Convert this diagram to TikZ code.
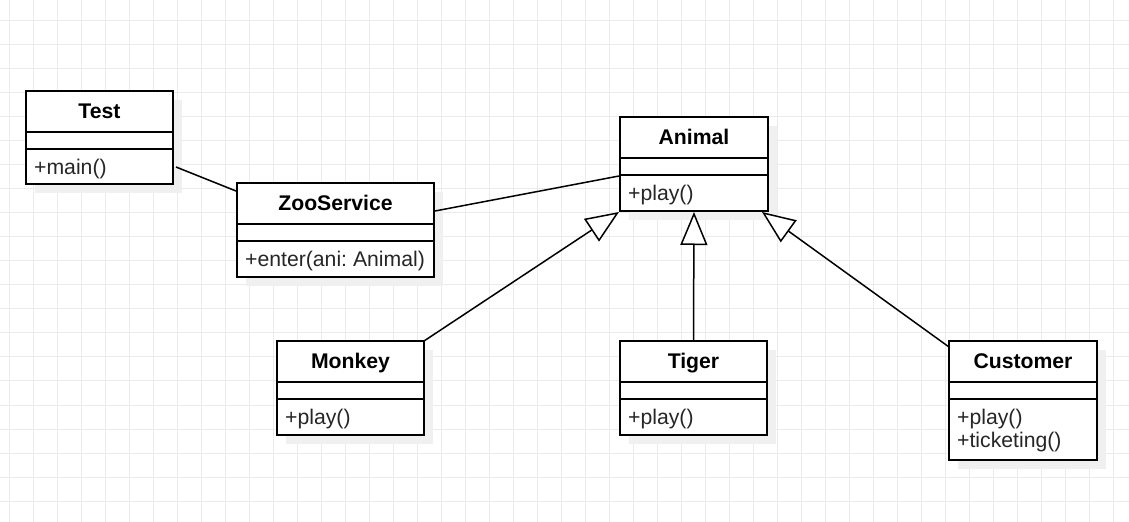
\documentclass[tikz,border=0pt]{standalone}
\usepackage{fontspec}
\setmainfont{Liberation Sans}
\usetikzlibrary{arrows.meta,calc}
\frenchspacing
\tikzset{
  box/.style={draw, line width=1.5bp, fill=white, anchor=north west, inner sep=0pt, outer sep=0pt},
  shadowbox/.style={fill=black!6, draw=none},
  sepline/.style={line width=1.5bp},
  umltitle/.style={font=\fontsize{21.2bp}{23bp}\selectfont\bfseries, inner sep=0pt, anchor=base},
  meth/.style={font=\fontsize{21.2bp}{23bp}\selectfont, text=black!85, anchor=base west, inner sep=0pt},
  assoc/.style={line width=1.5bp},
  inh/.style={line width=1.5bp, -{Triangle[fill=white, length=33bp, width=27bp]}},
  gridline/.style={draw=black!8, line width=1bp}
}
\newcommand\UmlFrame[6]{%
  \fill[shadowbox] (#2+9,#3+9) rectangle (#2+#4+9,#3+#5+9);
  \node[box, minimum width=#4bp, minimum height=#5bp] (#1) at (#2,#3) {};
  \draw[sepline] (#2,#3+41) -- (#2+#4,#3+41);
  \draw[sepline] (#2,#3+58) -- (#2+#4,#3+58);
  \node[umltitle] (#1-title) at (#2+#4/2,#3+27.5) {#6};
}
\begin{document}
\begin{tikzpicture}[x=1bp,y=-1bp]
  \useasboundingbox (0,0) rectangle (1129,522);
  \fill[white] (0,0) rectangle (1129,522);
  % grid
  \foreach \gx in {0,...,46} {\draw[gridline] (9.5+24*\gx,0) -- (9.5+24*\gx,522);}
  \foreach \gy in {0,...,21} {\draw[gridline] (0,21+24*\gy) -- (1129,21+24*\gy);}
  % classes
  \UmlFrame{test}{26}{91}{147}{93}{Test}
  \node[meth] (test-m1) at (34,174.5) {+main()};
  \UmlFrame{zoo}{237}{183}{197}{94}{ZooService}
  \node[meth] (zoo-m1) at (245,266.5) {+enter(ani: Animal)};
  \UmlFrame{animal}{620}{117}{148}{94}{Animal}
  \node[meth] (animal-m1) at (628,200.5) {+play()};
  \UmlFrame{monkey}{277}{341}{147}{94}{Monkey}
  \node[meth] (monkey-m1) at (285,424.5) {+play()};
  \UmlFrame{tiger}{620}{341}{147}{94}{Tiger}
  \node[meth] (tiger-m1) at (628,424.5) {+play()};
  \UmlFrame{customer}{949}{341}{148}{119}{Customer}
  \node[meth] (customer-m1) at (957,424.5) {+play()};
  \node[meth] (customer-m2) at (957,447.5) {+ticketing()};
  % connectors
  \draw[assoc] ($(test.north east)+(3,76)$) -- ($(zoo.north west)+(-1,8)$);
  \draw[assoc] ($(zoo.north east)+(1,28)$) -- ($(animal.north west)+(-1,59)$);
  \draw[inh] (monkey.north east) -- ($(animal.south west)+(-1,1)$);
  \draw[inh] (tiger.north) -- ($(animal.south)+(0,1)$);
  \draw[inh] ($(customer.north west)+(0,6)$) -- ($(animal.south east)+(-6,1)$);
\end{tikzpicture}
\end{document}
